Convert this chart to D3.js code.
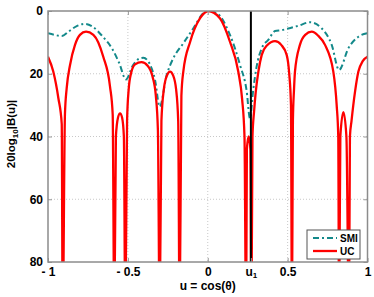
<!DOCTYPE html>
<html>
<head>
<meta charset="utf-8">
<script src="https://cdn.jsdelivr.net/npm/d3@7"></script>
<style>
  body { margin: 0; background: #fff; }
  svg { display: block; font-family: "Liberation Sans", Arial, sans-serif; font-weight: bold; }
</style>
</head>
<body>
<div id="chart"></div>
<script>
// beam pattern values (u, dB below peak); 100 = null
const ucU = [-1, -0.967, -0.935, -0.914, -0.908, -0.894, -0.883, -0.862, -0.831, -0.8, -0.762, -0.716, -0.654, -0.612, -0.595, -0.585,
  -0.575, -0.562, -0.549, -0.536, -0.525, -0.516, -0.505, -0.495, -0.48, -0.455, -0.415, -0.375, -0.345, -0.325, -0.312, -0.301,
  -0.29, -0.275, -0.255, -0.236, -0.217, -0.198, -0.185, -0.176, -0.165, -0.153, -0.11, -0.048, 0.003, 0.076, 0.139, 0.191,
  0.215, 0.23, 0.24, 0.245, 0.256, 0.267, 0.273, 0.28, 0.29, 0.3, 0.318, 0.338, 0.37, 0.421, 0.46, 0.494, 0.51, 0.521, 0.527,
  0.533, 0.54, 0.546, 0.577, 0.61, 0.651, 0.69, 0.734, 0.786, 0.807, 0.817, 0.822, 0.83, 0.849, 0.868, 0.884, 0.89, 0.9,
  0.922, 0.943, 0.97, 1]
const ucDb = [14.6, 19.3, 27.8, 36, 100, 33, 24.6, 17.2, 10.8, 7.6, 6.6, 7.6, 14.6, 24, 33, 100,
  40, 34, 32.6, 34, 40, 100, 35, 25, 19.8, 17, 16.3, 17.5, 21, 27, 38, 100,
  35, 25, 20.5, 19.3, 20.5, 25, 35, 100, 27, 19.3, 9.8, 2.3, 0, 2.3, 9.8, 19.3,
  28, 40, 100, 44, 40, 44, 100, 40, 32, 26, 19, 14, 11, 9.6, 10.8, 14, 20, 30, 100,
  35, 25, 19.3, 10.8, 7.6, 6.6, 7.8, 10.8, 19.3, 30, 40, 100, 40, 32.2, 40, 100, 40, 35,
  25.7, 19.3, 16, 14.6]

const smiU = [-1, -0.96, -0.914, -0.87, -0.82, -0.768, -0.72, -0.66, -0.6, -0.555, -0.512, -0.47, -0.43, -0.403, -0.36, -0.33,
  -0.301, -0.257, -0.216, -0.153, -0.09, -0.028, 0, 0.056, 0.139, 0.202, 0.244, 0.264, 0.285, 0.306, 0.338, 0.379, 0.421,
  0.463, 0.504, 0.567, 0.64, 0.713, 0.776, 0.822, 0.88, 0.943, 1]
const smiDb = [7.1, 7.6, 8, 6.5, 4.8, 4.1, 5, 8, 11.9, 16.5, 21.8, 17.5, 15.2, 14.9, 17.2, 22,
  30.5, 20.4, 15.1, 10.3, 5.5, 0.7, 0, 0.7, 7.6, 17.2, 25.7, 34.2, 25, 17.7, 11.9, 9.2, 6.4,
  6.1, 5.6, 4.7, 3.6, 5.5, 10.8, 18.8, 11.9, 8.2, 7.1]

const u1 = 0.27
const xTicks = [-1, -0.5, 0, u1, 0.5, 1]
const yTicks = [0, 20, 40, 60, 80]
const gridX = [-0.5, 0, 0.5]
const gridY = [20, 40, 60]
const legendNames = ["SMI", "UC"]

const width = 374, height = 297
const pL = 48, pR = 367.5, pT = 11, pB = 262

const x = d3.scaleLinear().domain([-1, 1]).range([pL, pR])
const y = d3.scaleLinear().domain([0, 80]).range([pT, pB])

const svg = d3.select("#chart").append("svg")
  .attr("width", width)
  .attr("height", height)

svg.append("clipPath").attr("id", "plot")
  .append("rect")
  .attr("x", pL).attr("y", pT)
  .attr("width", pR - pL).attr("height", pB - pT)

// grid
svg.append("g")
  .selectAll("line")
  .data(gridX)
  .join("line")
  .attr("x1", d => x(d)).attr("x2", d => x(d))
  .attr("y1", pT).attr("y2", pB)
  .attr("stroke", "#c8c8c8")
  .attr("stroke-dasharray", "1,2")

svg.append("g")
  .selectAll("line")
  .data(gridY)
  .join("line")
  .attr("y1", d => y(d)).attr("y2", d => y(d))
  .attr("x1", pL).attr("x2", pR)
  .attr("stroke", "#c8c8c8")
  .attr("stroke-dasharray", "1,2")

const line = d3.line().curve(d3.curveMonotoneX)

const curves = svg.append("g").attr("clip-path", "url(#plot)")

curves.append("path")
  .datum(smiU.map((u, i) => [x(u), y(smiDb[i])]))
  .attr("fill", "none")
  .attr("stroke", "#13898a")
  .attr("stroke-width", 2)
  .attr("stroke-dasharray", "6,3,2,3")
  .attr("d", line)

curves.append("path")
  .datum(ucU.map((u, i) => [x(u), y(ucDb[i])]))
  .attr("fill", "none")
  .attr("stroke", "#ff0000")
  .attr("stroke-width", 2.3)
  .attr("d", line)

// u1 marker
svg.append("line")
  .attr("x1", x(u1)).attr("x2", x(u1))
  .attr("y1", pT).attr("y2", pB)
  .attr("stroke", "#000")
  .attr("stroke-width", 2)

// axes
const fmt = d => d === u1 ? "u" : d < 0 ? "- " + Math.abs(d) : String(d)

const xAxis = svg.append("g")
  .attr("transform", `translate(0,${pB})`)
  .call(d3.axisBottom(x).tickValues(xTicks).tickFormat(fmt).tickSizeInner(-4).tickSizeOuter(0).tickPadding(5))
xAxis.selectAll("text")
  .filter(d => d === u1)
  .append("tspan")
  .attr("font-size", 8)
  .attr("dy", "0.35em")
  .text("1")

svg.append("g")
  .attr("transform", `translate(0,${pT})`)
  .call(d3.axisTop(x).tickValues(xTicks.filter(d => d !== u1)).tickFormat("").tickSizeInner(-4).tickSizeOuter(0))

svg.append("g")
  .attr("transform", `translate(${pL},0)`)
  .call(d3.axisLeft(y).tickValues(yTicks).tickSizeInner(-4).tickSizeOuter(0).tickPadding(5))

svg.append("g")
  .attr("transform", `translate(${pR},0)`)
  .call(d3.axisRight(y).tickValues(yTicks).tickFormat("").tickSizeInner(-4).tickSizeOuter(0))

svg.selectAll(".domain").attr("stroke", "none")
svg.selectAll(".tick line").attr("stroke", "#999")
svg.selectAll(".tick text")
  .attr("font-family", "Liberation Sans, Arial, sans-serif")
  .attr("font-weight", "bold")
  .attr("font-size", 12)
  .attr("fill", "#000")

// frame
svg.append("rect")
  .attr("x", pL).attr("y", pT)
  .attr("width", pR - pL).attr("height", pB - pT)
  .attr("fill", "none")
  .attr("stroke", "#8c8c8c")
  .attr("stroke-width", 1.5)

// axis titles
svg.append("text")
  .attr("x", (pL + pR) / 2)
  .attr("y", 290)
  .attr("text-anchor", "middle")
  .attr("font-size", 12)
  .text("u = cos(θ)")

const yt = svg.append("text")
  .attr("transform", "translate(15,134) rotate(-90)")
  .attr("text-anchor", "middle")
  .attr("font-size", 11.5)
yt.append("tspan").text("20log")
yt.append("tspan").attr("font-size", 8).attr("dy", "0.35em").text("10")
yt.append("tspan").attr("dy", "-0.25em").text("|B(u)|")

// legend
const lg = svg.append("g").attr("transform", "translate(307,230)")
lg.append("rect")
  .attr("width", 53).attr("height", 29)
  .attr("fill", "#fff")
  .attr("stroke", "#555")
  .attr("stroke-width", 1)

const lgRow = lg.selectAll("g")
  .data(legendNames)
  .join("g")
  .attr("transform", (d, i) => `translate(0,${8 + i * 13})`)

lgRow.append("line")
  .attr("x1", 6).attr("x2", 30)
  .attr("stroke", (d, i) => i === 0 ? "#13898a" : "#ff0000")
  .attr("stroke-width", (d, i) => i === 0 ? 2 : 2.3)
  .attr("stroke-dasharray", (d, i) => i === 0 ? "6,3,2,3" : null)

lgRow.append("text")
  .attr("x", 33)
  .attr("dy", "0.35em")
  .attr("font-size", 10)
  .text(d => d)
</script>
</body>
</html>
